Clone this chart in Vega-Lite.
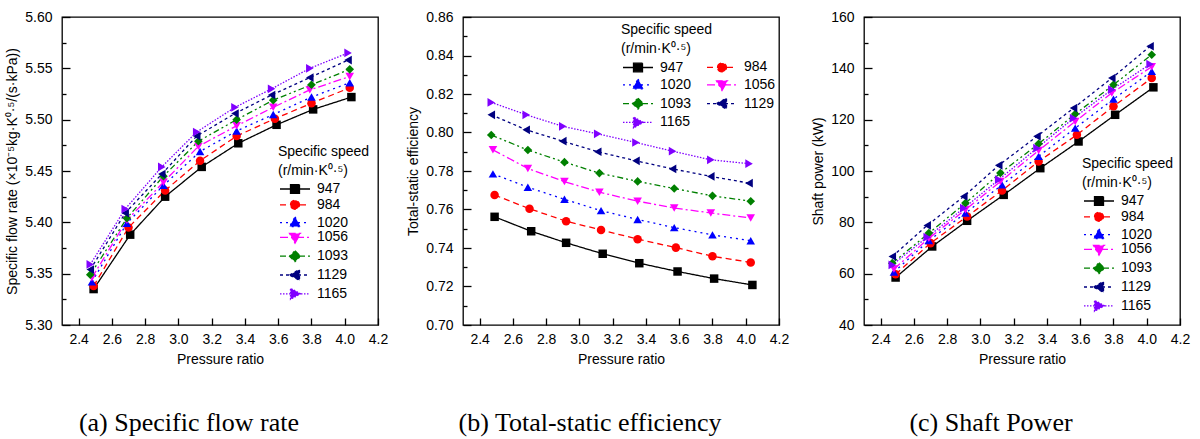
{
  "$schema": "https://vega.github.io/schema/vega-lite/v6.json",
  "padding": {"left": 5, "top": 9, "right": 5, "bottom": 5},
  "background": "white",
  "bounds": "flush",
  "spacing": 85,
  "resolve": {"legend": {"color": "independent"}, "scale": {"color": "independent"}},
  "datasets": {
    "flow": [
      {"speed": "947", "pr": 2.49, "v": 5.335}, {"speed": "947", "pr": 2.71, "v": 5.388}, {"speed": "947", "pr": 2.92, "v": 5.425}, {"speed": "947", "pr": 3.14, "v": 5.454}, {"speed": "947", "pr": 3.36, "v": 5.477}, {"speed": "947", "pr": 3.59, "v": 5.495}, {"speed": "947", "pr": 3.81, "v": 5.51}, {"speed": "947", "pr": 4.04, "v": 5.522},
      {"speed": "984", "pr": 2.49, "v": 5.338}, {"speed": "984", "pr": 2.7, "v": 5.395}, {"speed": "984", "pr": 2.92, "v": 5.431}, {"speed": "984", "pr": 3.13, "v": 5.46}, {"speed": "984", "pr": 3.35, "v": 5.484}, {"speed": "984", "pr": 3.58, "v": 5.501}, {"speed": "984", "pr": 3.8, "v": 5.516}, {"speed": "984", "pr": 4.03, "v": 5.531},
      {"speed": "1020", "pr": 2.48, "v": 5.342}, {"speed": "1020", "pr": 2.69, "v": 5.399}, {"speed": "1020", "pr": 2.91, "v": 5.436}, {"speed": "1020", "pr": 3.13, "v": 5.469}, {"speed": "1020", "pr": 3.35, "v": 5.489}, {"speed": "1020", "pr": 3.57, "v": 5.505}, {"speed": "1020", "pr": 3.8, "v": 5.522}, {"speed": "1020", "pr": 4.03, "v": 5.536},
      {"speed": "1056", "pr": 2.48, "v": 5.346}, {"speed": "1056", "pr": 2.69, "v": 5.402}, {"speed": "1056", "pr": 2.91, "v": 5.439}, {"speed": "1056", "pr": 3.12, "v": 5.474}, {"speed": "1056", "pr": 3.35, "v": 5.494}, {"speed": "1056", "pr": 3.57, "v": 5.512}, {"speed": "1056", "pr": 3.79, "v": 5.529}, {"speed": "1056", "pr": 4.03, "v": 5.542},
      {"speed": "1093", "pr": 2.47, "v": 5.349}, {"speed": "1093", "pr": 2.69, "v": 5.404}, {"speed": "1093", "pr": 2.91, "v": 5.445}, {"speed": "1093", "pr": 3.12, "v": 5.479}, {"speed": "1093", "pr": 3.35, "v": 5.5}, {"speed": "1093", "pr": 3.57, "v": 5.519}, {"speed": "1093", "pr": 3.8, "v": 5.534}, {"speed": "1093", "pr": 4.03, "v": 5.549},
      {"speed": "1129", "pr": 2.47, "v": 5.354}, {"speed": "1129", "pr": 2.68, "v": 5.409}, {"speed": "1129", "pr": 2.9, "v": 5.447}, {"speed": "1129", "pr": 3.11, "v": 5.484}, {"speed": "1129", "pr": 3.34, "v": 5.506}, {"speed": "1129", "pr": 3.56, "v": 5.524}, {"speed": "1129", "pr": 3.79, "v": 5.541}, {"speed": "1129", "pr": 4.02, "v": 5.558},
      {"speed": "1165", "pr": 2.47, "v": 5.359}, {"speed": "1165", "pr": 2.68, "v": 5.413}, {"speed": "1165", "pr": 2.9, "v": 5.454}, {"speed": "1165", "pr": 3.11, "v": 5.488}, {"speed": "1165", "pr": 3.34, "v": 5.512}, {"speed": "1165", "pr": 3.56, "v": 5.53}, {"speed": "1165", "pr": 3.79, "v": 5.55}, {"speed": "1165", "pr": 4.02, "v": 5.565}
    ],
    "eff": [
      {"speed": "947", "pr": 2.49, "v": 0.7562}, {"speed": "947", "pr": 2.71, "v": 0.7487}, {"speed": "947", "pr": 2.92, "v": 0.7427}, {"speed": "947", "pr": 3.14, "v": 0.737}, {"speed": "947", "pr": 3.36, "v": 0.7321}, {"speed": "947", "pr": 3.59, "v": 0.7278}, {"speed": "947", "pr": 3.81, "v": 0.7241}, {"speed": "947", "pr": 4.04, "v": 0.7208},
      {"speed": "984", "pr": 2.49, "v": 0.7675}, {"speed": "984", "pr": 2.7, "v": 0.7604}, {"speed": "984", "pr": 2.92, "v": 0.7539}, {"speed": "984", "pr": 3.13, "v": 0.7494}, {"speed": "984", "pr": 3.35, "v": 0.7446}, {"speed": "984", "pr": 3.58, "v": 0.7402}, {"speed": "984", "pr": 3.8, "v": 0.7357}, {"speed": "984", "pr": 4.03, "v": 0.7325},
      {"speed": "1020", "pr": 2.48, "v": 0.7785}, {"speed": "1020", "pr": 2.69, "v": 0.7716}, {"speed": "1020", "pr": 2.91, "v": 0.7653}, {"speed": "1020", "pr": 3.13, "v": 0.7594}, {"speed": "1020", "pr": 3.35, "v": 0.7548}, {"speed": "1020", "pr": 3.57, "v": 0.7506}, {"speed": "1020", "pr": 3.8, "v": 0.7468}, {"speed": "1020", "pr": 4.03, "v": 0.7438},
      {"speed": "1056", "pr": 2.48, "v": 0.791}, {"speed": "1056", "pr": 2.69, "v": 0.7813}, {"speed": "1056", "pr": 2.91, "v": 0.7745}, {"speed": "1056", "pr": 3.12, "v": 0.769}, {"speed": "1056", "pr": 3.35, "v": 0.7643}, {"speed": "1056", "pr": 3.57, "v": 0.7608}, {"speed": "1056", "pr": 3.79, "v": 0.7582}, {"speed": "1056", "pr": 4.03, "v": 0.7556},
      {"speed": "1093", "pr": 2.47, "v": 0.7987}, {"speed": "1093", "pr": 2.69, "v": 0.7909}, {"speed": "1093", "pr": 2.91, "v": 0.7846}, {"speed": "1093", "pr": 3.12, "v": 0.7789}, {"speed": "1093", "pr": 3.35, "v": 0.7746}, {"speed": "1093", "pr": 3.57, "v": 0.7709}, {"speed": "1093", "pr": 3.8, "v": 0.7671}, {"speed": "1093", "pr": 4.03, "v": 0.7643},
      {"speed": "1129", "pr": 2.47, "v": 0.8092}, {"speed": "1129", "pr": 2.68, "v": 0.8014}, {"speed": "1129", "pr": 2.9, "v": 0.7955}, {"speed": "1129", "pr": 3.11, "v": 0.79}, {"speed": "1129", "pr": 3.34, "v": 0.7853}, {"speed": "1129", "pr": 3.56, "v": 0.7811}, {"speed": "1129", "pr": 3.79, "v": 0.7772}, {"speed": "1129", "pr": 4.02, "v": 0.7737},
      {"speed": "1165", "pr": 2.47, "v": 0.8156}, {"speed": "1165", "pr": 2.68, "v": 0.8092}, {"speed": "1165", "pr": 2.9, "v": 0.8032}, {"speed": "1165", "pr": 3.11, "v": 0.7993}, {"speed": "1165", "pr": 3.34, "v": 0.7948}, {"speed": "1165", "pr": 3.56, "v": 0.7903}, {"speed": "1165", "pr": 3.79, "v": 0.7858}, {"speed": "1165", "pr": 4.02, "v": 0.7838}
    ],
    "power": [
      {"speed": "947", "pr": 2.49, "v": 58.5}, {"speed": "947", "pr": 2.71, "v": 70.6}, {"speed": "947", "pr": 2.92, "v": 80.6}, {"speed": "947", "pr": 3.14, "v": 90.7}, {"speed": "947", "pr": 3.36, "v": 101.1}, {"speed": "947", "pr": 3.59, "v": 111.5}, {"speed": "947", "pr": 3.81, "v": 121.9}, {"speed": "947", "pr": 4.04, "v": 132.6},
      {"speed": "984", "pr": 2.49, "v": 59.8}, {"speed": "984", "pr": 2.7, "v": 71.9}, {"speed": "984", "pr": 2.92, "v": 82.3}, {"speed": "984", "pr": 3.13, "v": 92.4}, {"speed": "984", "pr": 3.35, "v": 103.7}, {"speed": "984", "pr": 3.58, "v": 114.1}, {"speed": "984", "pr": 3.8, "v": 125.2}, {"speed": "984", "pr": 4.03, "v": 136.2},
      {"speed": "1020", "pr": 2.48, "v": 60.6}, {"speed": "1020", "pr": 2.69, "v": 72.9}, {"speed": "1020", "pr": 2.91, "v": 83.6}, {"speed": "1020", "pr": 3.13, "v": 94.6}, {"speed": "1020", "pr": 3.35, "v": 105.7}, {"speed": "1020", "pr": 3.57, "v": 116.7}, {"speed": "1020", "pr": 3.8, "v": 128.0}, {"speed": "1020", "pr": 4.03, "v": 138.8},
      {"speed": "1056", "pr": 2.48, "v": 61.8}, {"speed": "1056", "pr": 2.69, "v": 73.8}, {"speed": "1056", "pr": 2.91, "v": 84.9}, {"speed": "1056", "pr": 3.12, "v": 95.9}, {"speed": "1056", "pr": 3.35, "v": 108.0}, {"speed": "1056", "pr": 3.57, "v": 119.3}, {"speed": "1056", "pr": 3.79, "v": 130.4}, {"speed": "1056", "pr": 4.03, "v": 140.6},
      {"speed": "1093", "pr": 2.47, "v": 64.1}, {"speed": "1093", "pr": 2.69, "v": 75.8}, {"speed": "1093", "pr": 2.91, "v": 87.5}, {"speed": "1093", "pr": 3.12, "v": 99.2}, {"speed": "1093", "pr": 3.35, "v": 110.6}, {"speed": "1093", "pr": 3.57, "v": 122.2}, {"speed": "1093", "pr": 3.8, "v": 133.6}, {"speed": "1093", "pr": 4.03, "v": 145.3},
      {"speed": "1129", "pr": 2.47, "v": 66.7}, {"speed": "1129", "pr": 2.68, "v": 78.8}, {"speed": "1129", "pr": 2.9, "v": 90.1}, {"speed": "1129", "pr": 3.11, "v": 102.2}, {"speed": "1129", "pr": 3.34, "v": 113.5}, {"speed": "1129", "pr": 3.56, "v": 124.5}, {"speed": "1129", "pr": 3.79, "v": 136.2}, {"speed": "1129", "pr": 4.02, "v": 148.6},
      {"speed": "1165", "pr": 2.47, "v": 63.4}, {"speed": "1165", "pr": 2.68, "v": 74.2}, {"speed": "1165", "pr": 2.9, "v": 85.5}, {"speed": "1165", "pr": 3.11, "v": 96.6}, {"speed": "1165", "pr": 3.34, "v": 108.9}, {"speed": "1165", "pr": 3.56, "v": 120.6}, {"speed": "1165", "pr": 3.79, "v": 131.7}, {"speed": "1165", "pr": 4.02, "v": 141.6}
    ]
  },
  "hconcat": [
    {
      "width": 316, "height": 308,
      "title": {"text": "(a) Specific flow rate", "dx": -31},
      "data": {"name": "flow"},
      "encoding": {
        "x": {"field": "pr", "type": "quantitative", "scale": {"domain": [2.3, 4.2], "nice": false, "zero": false},
              "axis": {"values": [2.4, 2.6, 2.8, 3.0, 3.2, 3.4, 3.6, 3.8, 4.0, 4.2], "format": ".1f", "title": "Pressure ratio"}},
        "y": {"field": "v", "type": "quantitative", "scale": {"domain": [5.3, 5.6], "nice": false, "zero": false},
              "axis": {"values": [5.3, 5.325, 5.35, 5.375, 5.4, 5.425, 5.45, 5.475, 5.5, 5.525, 5.55, 5.575, 5.6],
                       "labelExpr": "abs(datum.value*20-round(datum.value*20))<0.001 ? format(datum.value,'.2f') : ''",
                       "tickSize": {"condition": {"test": "abs(datum.value*20-round(datum.value*20))<0.001", "value": -8}, "value": -4},
                       "title": "Specific flow rate (×10⁻⁵kg·K⁰·⁵/(s·kPa))"}},
        "color": {"field": "speed", "type": "nominal",
                  "scale": {"domain": ["947", "984", "1020", "1056", "1093", "1129", "1165"], "range": ["#000000", "#ff0000", "#0000ff", "#ff00ff", "#008000", "#000080", "#8000ff"]},
                  "legend": {"title": ["Specific speed", "(r/min·K⁰·⁵)"], "legendX": 216, "legendY": 128, "columns": 1,
                    "encode": {"symbols": {"update": {
                      "shape": {"signal": "['M-1,0H5M1.1,-0.86H2.9V0.86H1.1Z','M-1,0H5M1.1,0A0.9,0.9,0,1,1,2.9,0A0.9,0.9,0,1,1,1.1,0Z','M-1,0H5M2,-1.15L3.1,0.8H0.9Z','M-1,0H5M2,1.15L3.1,-0.8H0.9Z','M-1,0H5M2,-1.1L3.1,0L2,1.1L0.9,0Z','M-1,0H5M0.9,0L2.9,-1.1V1.1Z','M-1,0H5M3.1,0L1.1,-1.1V1.1Z'][indexof(['947','984','1020','1056','1093','1129','1165'], datum.value)]"},
                      "fill": {"signal": "['#000000','#ff0000','#0000ff','#ff00ff','#008000','#000080','#8000ff'][indexof(['947','984','1020','1056','1093','1129','1165'], datum.value)]"},
                      "stroke": {"signal": "['#000000','#ff0000','#0000ff','#ff00ff','#008000','#000080','#8000ff'][indexof(['947','984','1020','1056','1093','1129','1165'], datum.value)]"},
                      "strokeDash": {"signal": "[[1,0],[6,4],[2,4],[8,3,2,3],[6,3,2,3,2,3],[3,3],[1.5,1.5]][indexof(['947','984','1020','1056','1093','1129','1165'], datum.value)]"},
                      "strokeWidth": {"value": 1.3}, "size": {"value": 100}, "opacity": {"value": 1}, "fillOpacity": {"value": 1}}}}}}
      },
      "layer": [
        {"mark": {"type": "line", "strokeWidth": 1.3},
         "encoding": {"strokeDash": {"field": "speed", "type": "nominal", "legend": null,
           "scale": {"domain": ["947", "984", "1020", "1056", "1093", "1129", "1165"], "range": [[1, 0], [6, 4], [2, 4], [8, 3, 2, 3], [6, 3, 2, 3, 2, 3], [3, 3], [1.5, 1.5]]}}}},
        {"mark": {"type": "point", "filled": true, "opacity": 1},
         "encoding": {
           "shape": {"field": "speed", "type": "nominal", "legend": null, "scale": {"domain": ["947", "984", "1020", "1056", "1093", "1129", "1165"], "range": ["square", "circle", "triangle-up", "triangle-down", "diamond", "triangle-left", "triangle-right"]}},
           "size": {"field": "speed", "type": "ordinal", "legend": null, "scale": {"domain": ["947", "984", "1020", "1056", "1093", "1129", "1165"], "range": [72, 76, 110, 110, 100, 110, 110]}}}}
      ]
    },
    {
      "width": 316, "height": 308,
      "title": {"text": "(b) Total-static efficiency", "dx": -31},
      "data": {"name": "eff"},
      "encoding": {
        "x": {"field": "pr", "type": "quantitative", "scale": {"domain": [2.3, 4.2], "nice": false, "zero": false},
              "axis": {"values": [2.4, 2.6, 2.8, 3.0, 3.2, 3.4, 3.6, 3.8, 4.0, 4.2], "format": ".1f", "title": "Pressure ratio"}},
        "y": {"field": "v", "type": "quantitative", "scale": {"domain": [0.7, 0.86], "nice": false, "zero": false},
              "axis": {"values": [0.7, 0.71, 0.72, 0.73, 0.74, 0.75, 0.76, 0.77, 0.78, 0.79, 0.8, 0.81, 0.82, 0.83, 0.84, 0.85, 0.86],
                       "labelExpr": "abs(datum.value*50-round(datum.value*50))<0.001 ? format(datum.value,'.2f') : ''",
                       "tickSize": {"condition": {"test": "abs(datum.value*50-round(datum.value*50))<0.001", "value": -8}, "value": -4},
                       "title": "Total-static efficiency"}},
        "color": {"field": "speed", "type": "nominal",
                  "scale": {"domain": ["947", "1020", "1093", "1165", "984", "1056", "1129"], "range": ["#000000", "#0000ff", "#008000", "#8000ff", "#ff0000", "#ff00ff", "#000080"]},
                  "legend": {"title": ["Specific speed", "(r/min·K⁰·⁵)"], "legendX": 158, "legendY": 6, "columns": 2, "columnPadding": 12,
                    "encode": {"symbols": {"update": {
                      "shape": {"signal": "['M-1,0H5M1.1,-0.86H2.9V0.86H1.1Z','M-1,0H5M1.1,0A0.9,0.9,0,1,1,2.9,0A0.9,0.9,0,1,1,1.1,0Z','M-1,0H5M2,-1.15L3.1,0.8H0.9Z','M-1,0H5M2,1.15L3.1,-0.8H0.9Z','M-1,0H5M2,-1.1L3.1,0L2,1.1L0.9,0Z','M-1,0H5M0.9,0L2.9,-1.1V1.1Z','M-1,0H5M3.1,0L1.1,-1.1V1.1Z'][indexof(['947','984','1020','1056','1093','1129','1165'], datum.value)]"},
                      "fill": {"signal": "['#000000','#ff0000','#0000ff','#ff00ff','#008000','#000080','#8000ff'][indexof(['947','984','1020','1056','1093','1129','1165'], datum.value)]"},
                      "stroke": {"signal": "['#000000','#ff0000','#0000ff','#ff00ff','#008000','#000080','#8000ff'][indexof(['947','984','1020','1056','1093','1129','1165'], datum.value)]"},
                      "strokeDash": {"signal": "[[1,0],[6,4],[2,4],[8,3,2,3],[6,3,2,3,2,3],[3,3],[1.5,1.5]][indexof(['947','984','1020','1056','1093','1129','1165'], datum.value)]"},
                      "strokeWidth": {"value": 1.3}, "size": {"value": 100}, "opacity": {"value": 1}, "fillOpacity": {"value": 1}}}}}}
      },
      "layer": [
        {"mark": {"type": "line", "strokeWidth": 1.3},
         "encoding": {"strokeDash": {"field": "speed", "type": "nominal", "legend": null,
           "scale": {"domain": ["947", "984", "1020", "1056", "1093", "1129", "1165"], "range": [[1, 0], [6, 4], [2, 4], [8, 3, 2, 3], [6, 3, 2, 3, 2, 3], [3, 3], [1.5, 1.5]]}}}},
        {"mark": {"type": "point", "filled": true, "opacity": 1},
         "encoding": {
           "shape": {"field": "speed", "type": "nominal", "legend": null, "scale": {"domain": ["947", "984", "1020", "1056", "1093", "1129", "1165"], "range": ["square", "circle", "triangle-up", "triangle-down", "diamond", "triangle-left", "triangle-right"]}},
           "size": {"field": "speed", "type": "ordinal", "legend": null, "scale": {"domain": ["947", "984", "1020", "1056", "1093", "1129", "1165"], "range": [72, 76, 110, 110, 100, 110, 110]}}}}
      ]
    },
    {
      "width": 316, "height": 308,
      "title": {"text": "(c) Shaft Power", "dx": -31},
      "data": {"name": "power"},
      "encoding": {
        "x": {"field": "pr", "type": "quantitative", "scale": {"domain": [2.3, 4.2], "nice": false, "zero": false},
              "axis": {"values": [2.4, 2.6, 2.8, 3.0, 3.2, 3.4, 3.6, 3.8, 4.0, 4.2], "format": ".1f", "title": "Pressure ratio"}},
        "y": {"field": "v", "type": "quantitative", "scale": {"domain": [40, 160], "nice": false, "zero": false},
              "axis": {"values": [40, 50, 60, 70, 80, 90, 100, 110, 120, 130, 140, 150, 160],
                       "labelExpr": "datum.value % 20 == 0 ? format(datum.value,'d') : ''",
                       "tickSize": {"condition": {"test": "datum.value % 20 == 0", "value": -8}, "value": -4},
                       "title": "Shaft power (kW)"}},
        "color": {"field": "speed", "type": "nominal",
                  "scale": {"domain": ["947", "984", "1020", "1056", "1093", "1129", "1165"], "range": ["#000000", "#ff0000", "#0000ff", "#ff00ff", "#008000", "#000080", "#8000ff"]},
                  "legend": {"title": ["Specific speed", "(r/min·K⁰·⁵)"], "legendX": 218, "legendY": 140, "columns": 1,
                    "encode": {"symbols": {"update": {
                      "shape": {"signal": "['M-1,0H5M1.1,-0.86H2.9V0.86H1.1Z','M-1,0H5M1.1,0A0.9,0.9,0,1,1,2.9,0A0.9,0.9,0,1,1,1.1,0Z','M-1,0H5M2,-1.15L3.1,0.8H0.9Z','M-1,0H5M2,1.15L3.1,-0.8H0.9Z','M-1,0H5M2,-1.1L3.1,0L2,1.1L0.9,0Z','M-1,0H5M0.9,0L2.9,-1.1V1.1Z','M-1,0H5M3.1,0L1.1,-1.1V1.1Z'][indexof(['947','984','1020','1056','1093','1129','1165'], datum.value)]"},
                      "fill": {"signal": "['#000000','#ff0000','#0000ff','#ff00ff','#008000','#000080','#8000ff'][indexof(['947','984','1020','1056','1093','1129','1165'], datum.value)]"},
                      "stroke": {"signal": "['#000000','#ff0000','#0000ff','#ff00ff','#008000','#000080','#8000ff'][indexof(['947','984','1020','1056','1093','1129','1165'], datum.value)]"},
                      "strokeDash": {"signal": "[[1,0],[6,4],[2,4],[8,3,2,3],[6,3,2,3,2,3],[3,3],[1.5,1.5]][indexof(['947','984','1020','1056','1093','1129','1165'], datum.value)]"},
                      "strokeWidth": {"value": 1.3}, "size": {"value": 100}, "opacity": {"value": 1}, "fillOpacity": {"value": 1}}}}}}
      },
      "layer": [
        {"mark": {"type": "line", "strokeWidth": 1.3},
         "encoding": {"strokeDash": {"field": "speed", "type": "nominal", "legend": null,
           "scale": {"domain": ["947", "984", "1020", "1056", "1093", "1129", "1165"], "range": [[1, 0], [6, 4], [2, 4], [8, 3, 2, 3], [6, 3, 2, 3, 2, 3], [3, 3], [1.5, 1.5]]}}}},
        {"mark": {"type": "point", "filled": true, "opacity": 1},
         "encoding": {
           "shape": {"field": "speed", "type": "nominal", "legend": null, "scale": {"domain": ["947", "984", "1020", "1056", "1093", "1129", "1165"], "range": ["square", "circle", "triangle-up", "triangle-down", "diamond", "triangle-left", "triangle-right"]}},
           "size": {"field": "speed", "type": "ordinal", "legend": null, "scale": {"domain": ["947", "984", "1020", "1056", "1093", "1129", "1165"], "range": [72, 76, 110, 110, 100, 110, 110]}}}}
      ]
    }
  ],
  "config": {
    "font": "Liberation Sans",
    "view": {"stroke": "black", "strokeWidth": 1.3},
    "axis": {"domain": false, "grid": false, "labelFlush": false, "tickColor": "black", "tickWidth": 1.3, "labelColor": "black", "labelFontSize": 14, "labelFont": "Liberation Sans", "titleFont": "Liberation Sans", "titleFontSize": 14, "titleFontWeight": "normal", "titleColor": "black"},
    "axisX": {"tickSize": -7, "labelPadding": 14, "titlePadding": 6},
    "axisY": {"labelPadding": 18, "titlePadding": 5},
    "legend": {"orient": "none", "titleFont": "Liberation Sans", "titleFontSize": 14, "titleFontWeight": "normal", "titleColor": "black", "labelFont": "Liberation Sans", "labelFontSize": 14, "labelColor": "black", "labelOffset": 25, "rowPadding": 0.8, "symbolSize": 100, "titleLineHeight": 19, "titlePadding": 4, "padding": 0},
    "title": {"font": "Liberation Serif", "fontSize": 26, "fontWeight": "normal", "color": "black", "orient": "bottom", "offset": 44}
  }
}
